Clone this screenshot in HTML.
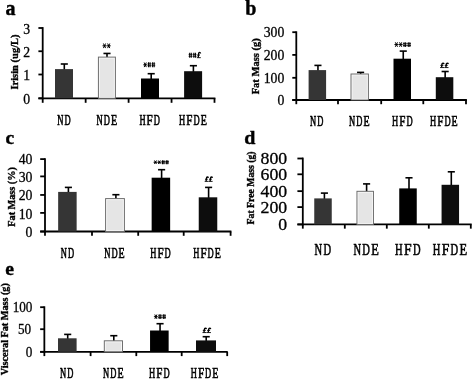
<!DOCTYPE html>
<html><head><meta charset="utf-8"><title>Figure</title>
<style>
html,body{margin:0;padding:0;background:#fff;}
body{width:473px;height:379px;overflow:hidden;font-family:"Liberation Serif", serif;}
svg{display:block;}
</style></head>
<body>
<svg width="473" height="379" viewBox="0 0 473 379">
<defs><filter id="soft" x="0" y="0" width="473" height="379" filterUnits="userSpaceOnUse"><feGaussianBlur stdDeviation="0.35"/></filter></defs>
<rect width="473" height="379" fill="#fff"/>
<g filter="url(#soft)">
<line x1="42.7" y1="27.10" x2="42.7" y2="99.20" stroke="#000" stroke-width="1.8"/>
<line x1="38.40" y1="98.3" x2="215.40" y2="98.3" stroke="#000" stroke-width="1.8"/>
<line x1="38.40" y1="28.0" x2="42.7" y2="28.0" stroke="#000" stroke-width="1.8"/>
<text transform="translate(30.2,33.90) scale(0.955,1)" text-anchor="end" font-size="14.4" font-family='"Liberation Serif", serif' stroke="#000" stroke-width="0.3">3</text>
<line x1="38.40" y1="51.25" x2="42.7" y2="51.25" stroke="#000" stroke-width="1.8"/>
<text transform="translate(30.2,57.15) scale(0.955,1)" text-anchor="end" font-size="14.4" font-family='"Liberation Serif", serif' stroke="#000" stroke-width="0.3">2</text>
<line x1="38.40" y1="74.5" x2="42.7" y2="74.5" stroke="#000" stroke-width="1.8"/>
<text transform="translate(30.2,80.40) scale(0.955,1)" text-anchor="end" font-size="14.4" font-family='"Liberation Serif", serif' stroke="#000" stroke-width="0.3">1</text>
<line x1="38.40" y1="98.3" x2="42.7" y2="98.3" stroke="#000" stroke-width="1.8"/>
<text transform="translate(30.2,104.20) scale(0.955,1)" text-anchor="end" font-size="14.4" font-family='"Liberation Serif", serif' stroke="#000" stroke-width="0.3">0</text>
<line x1="42.70" y1="98.3" x2="42.70" y2="102.80" stroke="#000" stroke-width="1.8"/>
<line x1="85.65" y1="98.3" x2="85.65" y2="102.80" stroke="#000" stroke-width="1.8"/>
<line x1="128.60" y1="98.3" x2="128.60" y2="102.80" stroke="#000" stroke-width="1.8"/>
<line x1="171.55" y1="98.3" x2="171.55" y2="102.80" stroke="#000" stroke-width="1.8"/>
<line x1="214.50" y1="98.3" x2="214.50" y2="102.80" stroke="#000" stroke-width="1.8"/>
<line x1="64.30" y1="64" x2="64.30" y2="70.1" stroke="#000" stroke-width="1.6"/>
<line x1="60.75" y1="64" x2="67.85" y2="64" stroke="#000" stroke-width="1.6"/>
<rect x="55.00" y="69.1" width="18.00" height="29.20" fill="#363636"/>
<text transform="translate(57.33,124.50) scale(0.587,1)" font-size="14.5" font-family='"Liberation Serif", serif' stroke="#000" stroke-width="0.55" vector-effect="non-scaling-stroke">N</text>
<text transform="translate(64.53,124.50) scale(0.587,1)" font-size="14.5" font-family='"Liberation Serif", serif' stroke="#000" stroke-width="0.55" vector-effect="non-scaling-stroke">D</text>
<line x1="107.00" y1="53.45" x2="107.00" y2="57.6" stroke="#000" stroke-width="1.6"/>
<line x1="103.45" y1="53.45" x2="110.55" y2="53.45" stroke="#000" stroke-width="1.6"/>
<rect x="98.40" y="57.1" width="17.00" height="41.20" fill="#f7f7f7" stroke="#686868" stroke-width="0.95"/>
<rect x="99.90" y="58.6" width="14.00" height="38.50" fill="#e5e5e5"/>
<text transform="translate(96.62,124.50) scale(0.587,1)" font-size="14.5" font-family='"Liberation Serif", serif' stroke="#000" stroke-width="0.55" vector-effect="non-scaling-stroke">N</text>
<text transform="translate(103.83,124.50) scale(0.587,1)" font-size="14.5" font-family='"Liberation Serif", serif' stroke="#000" stroke-width="0.55" vector-effect="non-scaling-stroke">D</text>
<text transform="translate(111.03,124.50) scale(0.694,1)" font-size="14.5" font-family='"Liberation Serif", serif' stroke="#000" stroke-width="0.55" vector-effect="non-scaling-stroke">E</text>
<line x1="151.20" y1="73.7" x2="151.20" y2="79.5" stroke="#000" stroke-width="1.6"/>
<line x1="147.65" y1="73.7" x2="154.75" y2="73.7" stroke="#000" stroke-width="1.6"/>
<rect x="141.00" y="78.5" width="18.00" height="19.80" fill="#000000"/>
<text transform="translate(139.42,124.50) scale(0.587,1)" font-size="14.5" font-family='"Liberation Serif", serif' stroke="#000" stroke-width="0.55" vector-effect="non-scaling-stroke">H</text>
<text transform="translate(146.62,124.50) scale(0.763,1)" font-size="14.5" font-family='"Liberation Serif", serif' stroke="#000" stroke-width="0.55" vector-effect="non-scaling-stroke">F</text>
<text transform="translate(153.82,124.50) scale(0.587,1)" font-size="14.5" font-family='"Liberation Serif", serif' stroke="#000" stroke-width="0.55" vector-effect="non-scaling-stroke">D</text>
<line x1="193.40" y1="65.7" x2="193.40" y2="72.2" stroke="#000" stroke-width="1.6"/>
<line x1="189.85" y1="65.7" x2="196.95" y2="65.7" stroke="#000" stroke-width="1.6"/>
<rect x="184.10" y="71.2" width="18.00" height="27.10" fill="#111111"/>
<text transform="translate(179.12,124.50) scale(0.587,1)" font-size="14.5" font-family='"Liberation Serif", serif' stroke="#000" stroke-width="0.55" vector-effect="non-scaling-stroke">H</text>
<text transform="translate(186.32,124.50) scale(0.763,1)" font-size="14.5" font-family='"Liberation Serif", serif' stroke="#000" stroke-width="0.55" vector-effect="non-scaling-stroke">F</text>
<text transform="translate(193.53,124.50) scale(0.587,1)" font-size="14.5" font-family='"Liberation Serif", serif' stroke="#000" stroke-width="0.55" vector-effect="non-scaling-stroke">D</text>
<text transform="translate(200.72,124.50) scale(0.694,1)" font-size="14.5" font-family='"Liberation Serif", serif' stroke="#000" stroke-width="0.55" vector-effect="non-scaling-stroke">E</text>
<line x1="102.53" y1="45.80" x2="106.47" y2="45.80" stroke="#000" stroke-width="1.0"/>
<line x1="103.41" y1="43.50" x2="105.59" y2="48.10" stroke="#000" stroke-width="1.0"/>
<line x1="103.41" y1="48.10" x2="105.59" y2="43.50" stroke="#000" stroke-width="1.0"/>
<circle cx="104.50" cy="45.80" r="0.83" fill="#000"/>
<line x1="106.73" y1="45.80" x2="110.67" y2="45.80" stroke="#000" stroke-width="1.0"/>
<line x1="107.61" y1="43.50" x2="109.79" y2="48.10" stroke="#000" stroke-width="1.0"/>
<line x1="107.61" y1="48.10" x2="109.79" y2="43.50" stroke="#000" stroke-width="1.0"/>
<circle cx="108.70" cy="45.80" r="0.83" fill="#000"/>
<line x1="143.32" y1="64.80" x2="147.15" y2="64.80" stroke="#000" stroke-width="1.0"/>
<line x1="144.18" y1="62.50" x2="146.29" y2="67.10" stroke="#000" stroke-width="1.0"/>
<line x1="144.18" y1="67.10" x2="146.29" y2="62.50" stroke="#000" stroke-width="1.0"/>
<circle cx="145.23" cy="64.80" r="0.80" fill="#000"/>
<line x1="148.54" y1="62.35" x2="148.54" y2="67.25" stroke="#000" stroke-width="1.05"/>
<line x1="150.07" y1="62.35" x2="150.07" y2="67.25" stroke="#000" stroke-width="1.05"/>
<line x1="147.47" y1="63.88" x2="151.14" y2="63.88" stroke="#000" stroke-width="0.85"/>
<line x1="147.47" y1="65.72" x2="151.14" y2="65.72" stroke="#000" stroke-width="0.85"/>
<line x1="152.61" y1="62.35" x2="152.61" y2="67.25" stroke="#000" stroke-width="1.05"/>
<line x1="154.14" y1="62.35" x2="154.14" y2="67.25" stroke="#000" stroke-width="1.05"/>
<line x1="151.54" y1="63.88" x2="155.21" y2="63.88" stroke="#000" stroke-width="0.85"/>
<line x1="151.54" y1="65.72" x2="155.21" y2="65.72" stroke="#000" stroke-width="0.85"/>
<line x1="189.69" y1="52.75" x2="189.69" y2="57.85" stroke="#000" stroke-width="1.05"/>
<line x1="191.26" y1="52.75" x2="191.26" y2="57.85" stroke="#000" stroke-width="1.05"/>
<line x1="188.61" y1="54.34" x2="192.34" y2="54.34" stroke="#000" stroke-width="0.85"/>
<line x1="188.61" y1="56.26" x2="192.34" y2="56.26" stroke="#000" stroke-width="0.85"/>
<line x1="193.84" y1="52.75" x2="193.84" y2="57.85" stroke="#000" stroke-width="1.05"/>
<line x1="195.41" y1="52.75" x2="195.41" y2="57.85" stroke="#000" stroke-width="1.05"/>
<line x1="192.76" y1="54.34" x2="196.49" y2="54.34" stroke="#000" stroke-width="0.85"/>
<line x1="192.76" y1="56.26" x2="196.49" y2="56.26" stroke="#000" stroke-width="0.85"/>
<path d="M200.57,53.52 C200.37,52.20 198.62,51.84 198.62,53.88 L198.22,57.48" fill="none" stroke="#000" stroke-width="1.35" stroke-linejoin="round"/>
<path d="M196.78,57.66 L200.77,57.66 M197.10,55.08 L199.97,55.08" fill="none" stroke="#000" stroke-width="0.9"/>
<text transform="translate(5.6,14.9) scale(1,1)" font-size="20" font-weight="bold" font-family='"Liberation Serif", serif' stroke="#000" stroke-width="0.4">a</text>
<text transform="translate(18.3,62) rotate(-90) scale(0.955,1)" text-anchor="middle" font-size="11" font-weight="bold" font-family='"Liberation Serif", serif' stroke="#000" stroke-width="0.35">Irisin (ug/L)</text>
<line x1="296.3" y1="31.30" x2="296.3" y2="100.90" stroke="#000" stroke-width="1.8"/>
<line x1="292.30" y1="100.0" x2="466.90" y2="100.0" stroke="#000" stroke-width="1.8"/>
<line x1="292.30" y1="32.2" x2="296.3" y2="32.2" stroke="#000" stroke-width="1.8"/>
<text transform="translate(284.3,37.30) scale(0.955,1)" text-anchor="end" font-size="14.4" font-family='"Liberation Serif", serif' stroke="#000" stroke-width="0.3">300</text>
<line x1="292.30" y1="54.9" x2="296.3" y2="54.9" stroke="#000" stroke-width="1.8"/>
<text transform="translate(284.3,60.00) scale(0.955,1)" text-anchor="end" font-size="14.4" font-family='"Liberation Serif", serif' stroke="#000" stroke-width="0.3">200</text>
<line x1="292.30" y1="77.8" x2="296.3" y2="77.8" stroke="#000" stroke-width="1.8"/>
<text transform="translate(284.3,82.90) scale(0.955,1)" text-anchor="end" font-size="14.4" font-family='"Liberation Serif", serif' stroke="#000" stroke-width="0.3">100</text>
<line x1="292.30" y1="100.0" x2="296.3" y2="100.0" stroke="#000" stroke-width="1.8"/>
<text transform="translate(284.3,105.30) scale(0.955,1)" text-anchor="end" font-size="14.4" font-family='"Liberation Serif", serif' stroke="#000" stroke-width="0.3">0</text>
<line x1="296.30" y1="100.0" x2="296.30" y2="104.20" stroke="#000" stroke-width="1.8"/>
<line x1="338.00" y1="100.0" x2="338.00" y2="104.20" stroke="#000" stroke-width="1.8"/>
<line x1="381.20" y1="100.0" x2="381.20" y2="104.20" stroke="#000" stroke-width="1.8"/>
<line x1="423.30" y1="100.0" x2="423.30" y2="104.20" stroke="#000" stroke-width="1.8"/>
<line x1="466.00" y1="100.0" x2="466.00" y2="104.20" stroke="#000" stroke-width="1.8"/>
<line x1="317.95" y1="65.4" x2="317.95" y2="71.1" stroke="#000" stroke-width="1.6"/>
<line x1="314.40" y1="65.4" x2="321.50" y2="65.4" stroke="#000" stroke-width="1.6"/>
<rect x="308.60" y="70.1" width="17.50" height="29.90" fill="#363636"/>
<text transform="translate(309.98,126.20) scale(0.587,1)" font-size="14.5" font-family='"Liberation Serif", serif' stroke="#000" stroke-width="0.55" vector-effect="non-scaling-stroke">N</text>
<text transform="translate(317.18,126.20) scale(0.587,1)" font-size="14.5" font-family='"Liberation Serif", serif' stroke="#000" stroke-width="0.55" vector-effect="non-scaling-stroke">D</text>
<line x1="360.60" y1="72.4" x2="360.60" y2="74.5" stroke="#000" stroke-width="1.6"/>
<line x1="357.05" y1="72.4" x2="364.15" y2="72.4" stroke="#000" stroke-width="1.6"/>
<rect x="351.00" y="74.0" width="17.40" height="26.00" fill="#f7f7f7" stroke="#686868" stroke-width="0.95"/>
<rect x="352.50" y="75.5" width="14.40" height="23.30" fill="#e5e5e5"/>
<text transform="translate(349.12,126.20) scale(0.587,1)" font-size="14.5" font-family='"Liberation Serif", serif' stroke="#000" stroke-width="0.55" vector-effect="non-scaling-stroke">N</text>
<text transform="translate(356.32,126.20) scale(0.587,1)" font-size="14.5" font-family='"Liberation Serif", serif' stroke="#000" stroke-width="0.55" vector-effect="non-scaling-stroke">D</text>
<text transform="translate(363.52,126.20) scale(0.694,1)" font-size="14.5" font-family='"Liberation Serif", serif' stroke="#000" stroke-width="0.55" vector-effect="non-scaling-stroke">E</text>
<line x1="403.25" y1="51.1" x2="403.25" y2="59.7" stroke="#000" stroke-width="1.6"/>
<line x1="399.70" y1="51.1" x2="406.80" y2="51.1" stroke="#000" stroke-width="1.6"/>
<rect x="393.50" y="58.7" width="17.50" height="41.30" fill="#000000"/>
<text transform="translate(391.98,126.20) scale(0.587,1)" font-size="14.5" font-family='"Liberation Serif", serif' stroke="#000" stroke-width="0.55" vector-effect="non-scaling-stroke">H</text>
<text transform="translate(399.18,126.20) scale(0.763,1)" font-size="14.5" font-family='"Liberation Serif", serif' stroke="#000" stroke-width="0.55" vector-effect="non-scaling-stroke">F</text>
<text transform="translate(406.38,126.20) scale(0.587,1)" font-size="14.5" font-family='"Liberation Serif", serif' stroke="#000" stroke-width="0.55" vector-effect="non-scaling-stroke">D</text>
<line x1="445.15" y1="71.5" x2="445.15" y2="78.2" stroke="#000" stroke-width="1.6"/>
<line x1="441.60" y1="71.5" x2="448.70" y2="71.5" stroke="#000" stroke-width="1.6"/>
<rect x="435.80" y="77.2" width="17.50" height="22.80" fill="#111111"/>
<text transform="translate(429.98,126.20) scale(0.587,1)" font-size="14.5" font-family='"Liberation Serif", serif' stroke="#000" stroke-width="0.55" vector-effect="non-scaling-stroke">H</text>
<text transform="translate(437.18,126.20) scale(0.763,1)" font-size="14.5" font-family='"Liberation Serif", serif' stroke="#000" stroke-width="0.55" vector-effect="non-scaling-stroke">F</text>
<text transform="translate(444.38,126.20) scale(0.587,1)" font-size="14.5" font-family='"Liberation Serif", serif' stroke="#000" stroke-width="0.55" vector-effect="non-scaling-stroke">D</text>
<text transform="translate(451.58,126.20) scale(0.694,1)" font-size="14.5" font-family='"Liberation Serif", serif' stroke="#000" stroke-width="0.55" vector-effect="non-scaling-stroke">E</text>
<line x1="394.43" y1="44.55" x2="398.39" y2="44.55" stroke="#000" stroke-width="1.0"/>
<line x1="395.32" y1="42.30" x2="397.50" y2="46.80" stroke="#000" stroke-width="1.0"/>
<line x1="395.32" y1="46.80" x2="397.50" y2="42.30" stroke="#000" stroke-width="1.0"/>
<circle cx="396.41" cy="44.55" r="0.83" fill="#000"/>
<line x1="398.65" y1="44.55" x2="402.61" y2="44.55" stroke="#000" stroke-width="1.0"/>
<line x1="399.54" y1="42.30" x2="401.72" y2="46.80" stroke="#000" stroke-width="1.0"/>
<line x1="399.54" y1="46.80" x2="401.72" y2="42.30" stroke="#000" stroke-width="1.0"/>
<circle cx="400.63" cy="44.55" r="0.83" fill="#000"/>
<line x1="404.05" y1="42.15" x2="404.05" y2="46.95" stroke="#000" stroke-width="1.05"/>
<line x1="405.65" y1="42.15" x2="405.65" y2="46.95" stroke="#000" stroke-width="1.05"/>
<line x1="402.95" y1="43.65" x2="406.75" y2="43.65" stroke="#000" stroke-width="0.85"/>
<line x1="402.95" y1="45.45" x2="406.75" y2="45.45" stroke="#000" stroke-width="0.85"/>
<line x1="408.27" y1="42.15" x2="408.27" y2="46.95" stroke="#000" stroke-width="1.05"/>
<line x1="409.87" y1="42.15" x2="409.87" y2="46.95" stroke="#000" stroke-width="1.05"/>
<line x1="407.17" y1="43.65" x2="410.97" y2="43.65" stroke="#000" stroke-width="0.85"/>
<line x1="407.17" y1="45.45" x2="410.97" y2="45.45" stroke="#000" stroke-width="0.85"/>
<path d="M444.01,64.12 C443.80,63.02 441.98,62.72 441.98,64.42 L441.57,67.42" fill="none" stroke="#000" stroke-width="1.35" stroke-linejoin="round"/>
<path d="M440.09,67.57 L444.21,67.57 M440.42,65.42 L443.39,65.42" fill="none" stroke="#000" stroke-width="0.9"/>
<path d="M448.31,64.12 C448.10,63.02 446.28,62.72 446.28,64.42 L445.87,67.42" fill="none" stroke="#000" stroke-width="1.35" stroke-linejoin="round"/>
<path d="M444.39,67.57 L448.51,67.57 M444.72,65.42 L447.69,65.42" fill="none" stroke="#000" stroke-width="0.9"/>
<text transform="translate(245.3,15.0) scale(1,1)" font-size="20" font-weight="bold" font-family='"Liberation Serif", serif' stroke="#000" stroke-width="0.4">b</text>
<text transform="translate(258.6,66.3) rotate(-90) scale(0.955,1)" text-anchor="middle" font-size="11" font-weight="bold" font-family='"Liberation Serif", serif' stroke="#000" stroke-width="0.35">Fat Mass (g)</text>
<line x1="45.0" y1="158.20" x2="45.0" y2="232.40" stroke="#000" stroke-width="1.8"/>
<line x1="40.20" y1="231.5" x2="231.40" y2="231.5" stroke="#000" stroke-width="1.8"/>
<line x1="40.20" y1="159.1" x2="45.0" y2="159.1" stroke="#000" stroke-width="1.8"/>
<text transform="translate(32.4,163.80) scale(0.955,1)" text-anchor="end" font-size="14.4" font-family='"Liberation Serif", serif' stroke="#000" stroke-width="0.3">40</text>
<line x1="40.20" y1="176.4" x2="45.0" y2="176.4" stroke="#000" stroke-width="1.8"/>
<text transform="translate(32.4,182.00) scale(0.955,1)" text-anchor="end" font-size="14.4" font-family='"Liberation Serif", serif' stroke="#000" stroke-width="0.3">30</text>
<line x1="40.20" y1="194.95" x2="45.0" y2="194.95" stroke="#000" stroke-width="1.8"/>
<text transform="translate(32.4,200.25) scale(0.955,1)" text-anchor="end" font-size="14.4" font-family='"Liberation Serif", serif' stroke="#000" stroke-width="0.3">20</text>
<line x1="40.20" y1="212.9" x2="45.0" y2="212.9" stroke="#000" stroke-width="1.8"/>
<text transform="translate(32.4,218.50) scale(0.955,1)" text-anchor="end" font-size="14.4" font-family='"Liberation Serif", serif' stroke="#000" stroke-width="0.3">10</text>
<line x1="40.20" y1="231.5" x2="45.0" y2="231.5" stroke="#000" stroke-width="1.8"/>
<text transform="translate(32.4,236.80) scale(0.955,1)" text-anchor="end" font-size="14.4" font-family='"Liberation Serif", serif' stroke="#000" stroke-width="0.3">0</text>
<line x1="45.00" y1="231.5" x2="45.00" y2="235.80" stroke="#000" stroke-width="1.8"/>
<line x1="92.00" y1="231.5" x2="92.00" y2="235.80" stroke="#000" stroke-width="1.8"/>
<line x1="138.20" y1="231.5" x2="138.20" y2="235.80" stroke="#000" stroke-width="1.8"/>
<line x1="183.70" y1="231.5" x2="183.70" y2="235.80" stroke="#000" stroke-width="1.8"/>
<line x1="230.60" y1="231.5" x2="230.60" y2="235.80" stroke="#000" stroke-width="1.8"/>
<line x1="68.40" y1="187.4" x2="68.40" y2="192.9" stroke="#000" stroke-width="1.6"/>
<line x1="64.85" y1="187.4" x2="71.95" y2="187.4" stroke="#000" stroke-width="1.6"/>
<rect x="58.15" y="191.9" width="18.50" height="39.60" fill="#363636"/>
<text transform="translate(60.73,258.30) scale(0.587,1)" font-size="14.5" font-family='"Liberation Serif", serif' stroke="#000" stroke-width="0.55" vector-effect="non-scaling-stroke">N</text>
<text transform="translate(67.93,258.30) scale(0.587,1)" font-size="14.5" font-family='"Liberation Serif", serif' stroke="#000" stroke-width="0.55" vector-effect="non-scaling-stroke">D</text>
<line x1="115.90" y1="194.7" x2="115.90" y2="199.1" stroke="#000" stroke-width="1.6"/>
<line x1="112.35" y1="194.7" x2="119.45" y2="194.7" stroke="#000" stroke-width="1.6"/>
<rect x="105.60" y="198.6" width="18.80" height="32.90" fill="#f7f7f7" stroke="#686868" stroke-width="0.95"/>
<rect x="107.10" y="200.1" width="15.80" height="30.20" fill="#e5e5e5"/>
<text transform="translate(104.22,258.30) scale(0.587,1)" font-size="14.5" font-family='"Liberation Serif", serif' stroke="#000" stroke-width="0.55" vector-effect="non-scaling-stroke">N</text>
<text transform="translate(111.42,258.30) scale(0.587,1)" font-size="14.5" font-family='"Liberation Serif", serif' stroke="#000" stroke-width="0.55" vector-effect="non-scaling-stroke">D</text>
<text transform="translate(118.62,258.30) scale(0.694,1)" font-size="14.5" font-family='"Liberation Serif", serif' stroke="#000" stroke-width="0.55" vector-effect="non-scaling-stroke">E</text>
<line x1="161.60" y1="169.7" x2="161.60" y2="178.7" stroke="#000" stroke-width="1.6"/>
<line x1="158.05" y1="169.7" x2="165.15" y2="169.7" stroke="#000" stroke-width="1.6"/>
<rect x="151.65" y="177.7" width="18.50" height="53.80" fill="#000000"/>
<text transform="translate(150.18,258.30) scale(0.587,1)" font-size="14.5" font-family='"Liberation Serif", serif' stroke="#000" stroke-width="0.55" vector-effect="non-scaling-stroke">H</text>
<text transform="translate(157.38,258.30) scale(0.763,1)" font-size="14.5" font-family='"Liberation Serif", serif' stroke="#000" stroke-width="0.55" vector-effect="non-scaling-stroke">F</text>
<text transform="translate(164.58,258.30) scale(0.587,1)" font-size="14.5" font-family='"Liberation Serif", serif' stroke="#000" stroke-width="0.55" vector-effect="non-scaling-stroke">D</text>
<line x1="208.60" y1="187.4" x2="208.60" y2="198.3" stroke="#000" stroke-width="1.6"/>
<line x1="205.05" y1="187.4" x2="212.15" y2="187.4" stroke="#000" stroke-width="1.6"/>
<rect x="198.75" y="197.3" width="18.50" height="34.20" fill="#111111"/>
<text transform="translate(193.22,258.30) scale(0.587,1)" font-size="14.5" font-family='"Liberation Serif", serif' stroke="#000" stroke-width="0.55" vector-effect="non-scaling-stroke">H</text>
<text transform="translate(200.42,258.30) scale(0.763,1)" font-size="14.5" font-family='"Liberation Serif", serif' stroke="#000" stroke-width="0.55" vector-effect="non-scaling-stroke">F</text>
<text transform="translate(207.62,258.30) scale(0.587,1)" font-size="14.5" font-family='"Liberation Serif", serif' stroke="#000" stroke-width="0.55" vector-effect="non-scaling-stroke">D</text>
<text transform="translate(214.82,258.30) scale(0.694,1)" font-size="14.5" font-family='"Liberation Serif", serif' stroke="#000" stroke-width="0.55" vector-effect="non-scaling-stroke">E</text>
<line x1="153.62" y1="162.25" x2="157.26" y2="162.25" stroke="#000" stroke-width="1.0"/>
<line x1="154.44" y1="160.50" x2="156.44" y2="164.00" stroke="#000" stroke-width="1.0"/>
<line x1="154.44" y1="164.00" x2="156.44" y2="160.50" stroke="#000" stroke-width="1.0"/>
<circle cx="155.44" cy="162.25" r="0.73" fill="#000"/>
<line x1="157.50" y1="162.25" x2="161.14" y2="162.25" stroke="#000" stroke-width="1.0"/>
<line x1="158.32" y1="160.50" x2="160.32" y2="164.00" stroke="#000" stroke-width="1.0"/>
<line x1="158.32" y1="164.00" x2="160.32" y2="160.50" stroke="#000" stroke-width="1.0"/>
<circle cx="159.32" cy="162.25" r="0.73" fill="#000"/>
<line x1="162.47" y1="160.35" x2="162.47" y2="164.15" stroke="#000" stroke-width="1.05"/>
<line x1="163.93" y1="160.35" x2="163.93" y2="164.15" stroke="#000" stroke-width="1.05"/>
<line x1="161.45" y1="161.55" x2="164.95" y2="161.55" stroke="#000" stroke-width="0.85"/>
<line x1="161.45" y1="162.95" x2="164.95" y2="162.95" stroke="#000" stroke-width="0.85"/>
<line x1="166.35" y1="160.35" x2="166.35" y2="164.15" stroke="#000" stroke-width="1.05"/>
<line x1="167.81" y1="160.35" x2="167.81" y2="164.15" stroke="#000" stroke-width="1.05"/>
<line x1="165.33" y1="161.55" x2="168.83" y2="161.55" stroke="#000" stroke-width="0.85"/>
<line x1="165.33" y1="162.95" x2="168.83" y2="162.95" stroke="#000" stroke-width="0.85"/>
<path d="M208.37,177.92 C208.18,176.82 206.47,176.52 206.47,178.22 L206.08,181.22" fill="none" stroke="#000" stroke-width="1.35" stroke-linejoin="round"/>
<path d="M204.68,181.37 L208.57,181.37 M204.99,179.22 L207.79,179.22" fill="none" stroke="#000" stroke-width="0.9"/>
<path d="M212.42,177.92 C212.23,176.82 210.52,176.52 210.52,178.22 L210.13,181.22" fill="none" stroke="#000" stroke-width="1.35" stroke-linejoin="round"/>
<path d="M208.73,181.37 L212.62,181.37 M209.04,179.22 L211.84,179.22" fill="none" stroke="#000" stroke-width="0.9"/>
<text transform="translate(5.4,143.9) scale(1.02,1)" font-size="19.2" font-weight="bold" font-family='"Liberation Serif", serif' stroke="#000" stroke-width="0.4">c</text>
<text transform="translate(14.6,196.9) rotate(-90) scale(0.93,1)" text-anchor="middle" font-size="11" font-weight="bold" font-family='"Liberation Serif", serif' stroke="#000" stroke-width="0.35">Fat Mass (%)</text>
<line x1="302.8" y1="157.60" x2="302.8" y2="225.35" stroke="#000" stroke-width="1.8"/>
<line x1="297.40" y1="224.45" x2="471.70" y2="224.45" stroke="#000" stroke-width="1.8"/>
<line x1="297.40" y1="158.5" x2="302.8" y2="158.5" stroke="#000" stroke-width="1.8"/>
<text transform="translate(287.2,163.80) scale(1.04,1)" text-anchor="end" font-size="17.1" font-family='"Liberation Serif", serif' stroke="#000" stroke-width="0.3">800</text>
<line x1="297.40" y1="174.3" x2="302.8" y2="174.3" stroke="#000" stroke-width="1.8"/>
<text transform="translate(287.2,180.30) scale(1.04,1)" text-anchor="end" font-size="17.1" font-family='"Liberation Serif", serif' stroke="#000" stroke-width="0.3">600</text>
<line x1="297.40" y1="191.15" x2="302.8" y2="191.15" stroke="#000" stroke-width="1.8"/>
<text transform="translate(287.2,196.80) scale(1.04,1)" text-anchor="end" font-size="17.1" font-family='"Liberation Serif", serif' stroke="#000" stroke-width="0.3">400</text>
<line x1="297.40" y1="207.1" x2="302.8" y2="207.1" stroke="#000" stroke-width="1.8"/>
<text transform="translate(287.2,213.30) scale(1.04,1)" text-anchor="end" font-size="17.1" font-family='"Liberation Serif", serif' stroke="#000" stroke-width="0.3">200</text>
<line x1="297.40" y1="224.45" x2="302.8" y2="224.45" stroke="#000" stroke-width="1.8"/>
<text transform="translate(287.2,229.80) scale(1.04,1)" text-anchor="end" font-size="17.1" font-family='"Liberation Serif", serif' stroke="#000" stroke-width="0.3">0</text>
<line x1="302.80" y1="224.45" x2="302.80" y2="228.65" stroke="#000" stroke-width="1.8"/>
<line x1="344.80" y1="224.45" x2="344.80" y2="228.65" stroke="#000" stroke-width="1.8"/>
<line x1="386.80" y1="224.45" x2="386.80" y2="228.65" stroke="#000" stroke-width="1.8"/>
<line x1="428.80" y1="224.45" x2="428.80" y2="228.65" stroke="#000" stroke-width="1.8"/>
<line x1="470.80" y1="224.45" x2="470.80" y2="228.65" stroke="#000" stroke-width="1.8"/>
<line x1="324.40" y1="193.1" x2="324.40" y2="199.4" stroke="#000" stroke-width="1.6"/>
<line x1="320.85" y1="193.1" x2="327.95" y2="193.1" stroke="#000" stroke-width="1.6"/>
<rect x="314.25" y="198.4" width="17.50" height="26.05" fill="#363636"/>
<text transform="translate(314.60,255.40) scale(0.619,1)" font-size="17" font-family='"Liberation Serif", serif' stroke="#000" stroke-width="0.55" vector-effect="non-scaling-stroke">N</text>
<text transform="translate(323.50,255.40) scale(0.619,1)" font-size="17" font-family='"Liberation Serif", serif' stroke="#000" stroke-width="0.55" vector-effect="non-scaling-stroke">D</text>
<line x1="366.60" y1="183.9" x2="366.60" y2="191.8" stroke="#000" stroke-width="1.6"/>
<line x1="363.05" y1="183.9" x2="370.15" y2="183.9" stroke="#000" stroke-width="1.6"/>
<rect x="356.95" y="191.3" width="16.50" height="33.15" fill="#f7f7f7" stroke="#686868" stroke-width="0.95"/>
<rect x="358.45" y="192.8" width="13.50" height="30.45" fill="#e5e5e5"/>
<text transform="translate(353.40,255.40) scale(0.619,1)" font-size="17" font-family='"Liberation Serif", serif' stroke="#000" stroke-width="0.55" vector-effect="non-scaling-stroke">N</text>
<text transform="translate(362.30,255.40) scale(0.619,1)" font-size="17" font-family='"Liberation Serif", serif' stroke="#000" stroke-width="0.55" vector-effect="non-scaling-stroke">D</text>
<text transform="translate(371.20,255.40) scale(0.732,1)" font-size="17" font-family='"Liberation Serif", serif' stroke="#000" stroke-width="0.55" vector-effect="non-scaling-stroke">E</text>
<line x1="409.00" y1="177.8" x2="409.00" y2="189.4" stroke="#000" stroke-width="1.6"/>
<line x1="405.45" y1="177.8" x2="412.55" y2="177.8" stroke="#000" stroke-width="1.6"/>
<rect x="399.25" y="188.4" width="17.50" height="36.05" fill="#000000"/>
<text transform="translate(395.10,255.40) scale(0.619,1)" font-size="17" font-family='"Liberation Serif", serif' stroke="#000" stroke-width="0.55" vector-effect="non-scaling-stroke">H</text>
<text transform="translate(404.00,255.40) scale(0.804,1)" font-size="17" font-family='"Liberation Serif", serif' stroke="#000" stroke-width="0.55" vector-effect="non-scaling-stroke">F</text>
<text transform="translate(412.90,255.40) scale(0.619,1)" font-size="17" font-family='"Liberation Serif", serif' stroke="#000" stroke-width="0.55" vector-effect="non-scaling-stroke">D</text>
<line x1="451.30" y1="171.8" x2="451.30" y2="185.8" stroke="#000" stroke-width="1.6"/>
<line x1="447.75" y1="171.8" x2="454.85" y2="171.8" stroke="#000" stroke-width="1.6"/>
<rect x="441.55" y="184.8" width="17.50" height="39.65" fill="#111111"/>
<text transform="translate(432.75,255.40) scale(0.619,1)" font-size="17" font-family='"Liberation Serif", serif' stroke="#000" stroke-width="0.55" vector-effect="non-scaling-stroke">H</text>
<text transform="translate(441.65,255.40) scale(0.804,1)" font-size="17" font-family='"Liberation Serif", serif' stroke="#000" stroke-width="0.55" vector-effect="non-scaling-stroke">F</text>
<text transform="translate(450.55,255.40) scale(0.619,1)" font-size="17" font-family='"Liberation Serif", serif' stroke="#000" stroke-width="0.55" vector-effect="non-scaling-stroke">D</text>
<text transform="translate(459.45,255.40) scale(0.732,1)" font-size="17" font-family='"Liberation Serif", serif' stroke="#000" stroke-width="0.55" vector-effect="non-scaling-stroke">E</text>
<text transform="translate(244.3,143.8) scale(1.075,1)" font-size="18.6" font-weight="bold" font-family='"Liberation Serif", serif' stroke="#000" stroke-width="0.4">d</text>
<text transform="translate(254.2,187.9) rotate(-90) scale(0.973,1)" text-anchor="middle" font-size="10" font-weight="bold" font-family='"Liberation Serif", serif' stroke="#000" stroke-width="0.35">Fat Free Mass (g)</text>
<line x1="44.35" y1="306.30" x2="44.35" y2="352.70" stroke="#000" stroke-width="1.8"/>
<line x1="40.15" y1="351.8" x2="227.70" y2="351.8" stroke="#000" stroke-width="1.8"/>
<line x1="40.15" y1="307.2" x2="44.35" y2="307.2" stroke="#000" stroke-width="1.8"/>
<text transform="translate(32.4,311.90) scale(0.955,1)" text-anchor="end" font-size="13.8" font-family='"Liberation Serif", serif' stroke="#000" stroke-width="0.3">100</text>
<line x1="40.15" y1="329.2" x2="44.35" y2="329.2" stroke="#000" stroke-width="1.8"/>
<text transform="translate(31.2,334.10) scale(0.955,1)" text-anchor="end" font-size="13.8" font-family='"Liberation Serif", serif' stroke="#000" stroke-width="0.3">50</text>
<line x1="40.15" y1="351.8" x2="44.35" y2="351.8" stroke="#000" stroke-width="1.8"/>
<text transform="translate(32.4,356.90) scale(0.955,1)" text-anchor="end" font-size="13.8" font-family='"Liberation Serif", serif' stroke="#000" stroke-width="0.3">0</text>
<line x1="44.35" y1="351.8" x2="44.35" y2="356.10" stroke="#000" stroke-width="1.8"/>
<line x1="90.60" y1="351.8" x2="90.60" y2="356.10" stroke="#000" stroke-width="1.8"/>
<line x1="136.30" y1="351.8" x2="136.30" y2="356.10" stroke="#000" stroke-width="1.8"/>
<line x1="181.70" y1="351.8" x2="181.70" y2="356.10" stroke="#000" stroke-width="1.8"/>
<line x1="227.20" y1="351.8" x2="227.20" y2="356.10" stroke="#000" stroke-width="1.8"/>
<line x1="67.70" y1="334.4" x2="67.70" y2="339.3" stroke="#000" stroke-width="1.6"/>
<line x1="64.15" y1="334.4" x2="71.25" y2="334.4" stroke="#000" stroke-width="1.6"/>
<rect x="58.00" y="338.3" width="18.60" height="13.50" fill="#363636"/>
<text transform="translate(60.12,378.00) scale(0.587,1)" font-size="14.5" font-family='"Liberation Serif", serif' stroke="#000" stroke-width="0.55" vector-effect="non-scaling-stroke">N</text>
<text transform="translate(67.33,378.00) scale(0.587,1)" font-size="14.5" font-family='"Liberation Serif", serif' stroke="#000" stroke-width="0.55" vector-effect="non-scaling-stroke">D</text>
<line x1="113.80" y1="335.7" x2="113.80" y2="341.3" stroke="#000" stroke-width="1.6"/>
<line x1="110.25" y1="335.7" x2="117.35" y2="335.7" stroke="#000" stroke-width="1.6"/>
<rect x="104.30" y="340.8" width="18.20" height="11.00" fill="#f7f7f7" stroke="#686868" stroke-width="0.95"/>
<rect x="105.80" y="342.3" width="15.20" height="8.30" fill="#e5e5e5"/>
<text transform="translate(103.12,378.00) scale(0.587,1)" font-size="14.5" font-family='"Liberation Serif", serif' stroke="#000" stroke-width="0.55" vector-effect="non-scaling-stroke">N</text>
<text transform="translate(110.33,378.00) scale(0.587,1)" font-size="14.5" font-family='"Liberation Serif", serif' stroke="#000" stroke-width="0.55" vector-effect="non-scaling-stroke">D</text>
<text transform="translate(117.53,378.00) scale(0.694,1)" font-size="14.5" font-family='"Liberation Serif", serif' stroke="#000" stroke-width="0.55" vector-effect="non-scaling-stroke">E</text>
<line x1="160.05" y1="323.7" x2="160.05" y2="331.5" stroke="#000" stroke-width="1.6"/>
<line x1="156.50" y1="323.7" x2="163.60" y2="323.7" stroke="#000" stroke-width="1.6"/>
<rect x="150.05" y="330.5" width="18.60" height="21.30" fill="#000000"/>
<text transform="translate(149.07,378.00) scale(0.587,1)" font-size="14.5" font-family='"Liberation Serif", serif' stroke="#000" stroke-width="0.55" vector-effect="non-scaling-stroke">H</text>
<text transform="translate(156.27,378.00) scale(0.763,1)" font-size="14.5" font-family='"Liberation Serif", serif' stroke="#000" stroke-width="0.55" vector-effect="non-scaling-stroke">F</text>
<text transform="translate(163.47,378.00) scale(0.587,1)" font-size="14.5" font-family='"Liberation Serif", serif' stroke="#000" stroke-width="0.55" vector-effect="non-scaling-stroke">D</text>
<line x1="206.20" y1="336.7" x2="206.20" y2="341.4" stroke="#000" stroke-width="1.6"/>
<line x1="202.65" y1="336.7" x2="209.75" y2="336.7" stroke="#000" stroke-width="1.6"/>
<rect x="196.00" y="340.4" width="20.00" height="11.40" fill="#111111"/>
<text transform="translate(190.72,378.00) scale(0.587,1)" font-size="14.5" font-family='"Liberation Serif", serif' stroke="#000" stroke-width="0.55" vector-effect="non-scaling-stroke">H</text>
<text transform="translate(197.92,378.00) scale(0.763,1)" font-size="14.5" font-family='"Liberation Serif", serif' stroke="#000" stroke-width="0.55" vector-effect="non-scaling-stroke">F</text>
<text transform="translate(205.12,378.00) scale(0.587,1)" font-size="14.5" font-family='"Liberation Serif", serif' stroke="#000" stroke-width="0.55" vector-effect="non-scaling-stroke">D</text>
<text transform="translate(212.32,378.00) scale(0.694,1)" font-size="14.5" font-family='"Liberation Serif", serif' stroke="#000" stroke-width="0.55" vector-effect="non-scaling-stroke">E</text>
<line x1="153.92" y1="316.70" x2="157.81" y2="316.70" stroke="#000" stroke-width="1.0"/>
<line x1="154.80" y1="314.50" x2="156.93" y2="318.90" stroke="#000" stroke-width="1.0"/>
<line x1="154.80" y1="318.90" x2="156.93" y2="314.50" stroke="#000" stroke-width="1.0"/>
<circle cx="155.87" cy="316.70" r="0.82" fill="#000"/>
<line x1="159.21" y1="314.35" x2="159.21" y2="319.05" stroke="#000" stroke-width="1.05"/>
<line x1="160.78" y1="314.35" x2="160.78" y2="319.05" stroke="#000" stroke-width="1.05"/>
<line x1="158.14" y1="315.82" x2="161.85" y2="315.82" stroke="#000" stroke-width="0.85"/>
<line x1="158.14" y1="317.58" x2="161.85" y2="317.58" stroke="#000" stroke-width="0.85"/>
<line x1="163.34" y1="314.35" x2="163.34" y2="319.05" stroke="#000" stroke-width="1.05"/>
<line x1="164.91" y1="314.35" x2="164.91" y2="319.05" stroke="#000" stroke-width="1.05"/>
<line x1="162.27" y1="315.82" x2="165.98" y2="315.82" stroke="#000" stroke-width="0.85"/>
<line x1="162.27" y1="317.58" x2="165.98" y2="317.58" stroke="#000" stroke-width="0.85"/>
<path d="M206.41,329.12 C206.20,328.02 204.38,327.72 204.38,329.42 L203.97,332.42" fill="none" stroke="#000" stroke-width="1.35" stroke-linejoin="round"/>
<path d="M202.49,332.57 L206.61,332.57 M202.82,330.42 L205.79,330.42" fill="none" stroke="#000" stroke-width="0.9"/>
<path d="M210.71,329.12 C210.50,328.02 208.68,327.72 208.68,329.42 L208.27,332.42" fill="none" stroke="#000" stroke-width="1.35" stroke-linejoin="round"/>
<path d="M206.79,332.57 L210.91,332.57 M207.12,330.42 L210.09,330.42" fill="none" stroke="#000" stroke-width="0.9"/>
<text transform="translate(5.3,274.6) scale(1.02,1)" font-size="19.3" font-weight="bold" font-family='"Liberation Serif", serif' stroke="#000" stroke-width="0.4">e</text>
<text transform="translate(8.4,329.2) rotate(-90) scale(0.99,1)" text-anchor="middle" font-size="10.3" font-weight="bold" font-family='"Liberation Serif", serif' stroke="#000" stroke-width="0.35">Visceral Fat Mass (g)</text>
</g>
</svg>
</body></html>
